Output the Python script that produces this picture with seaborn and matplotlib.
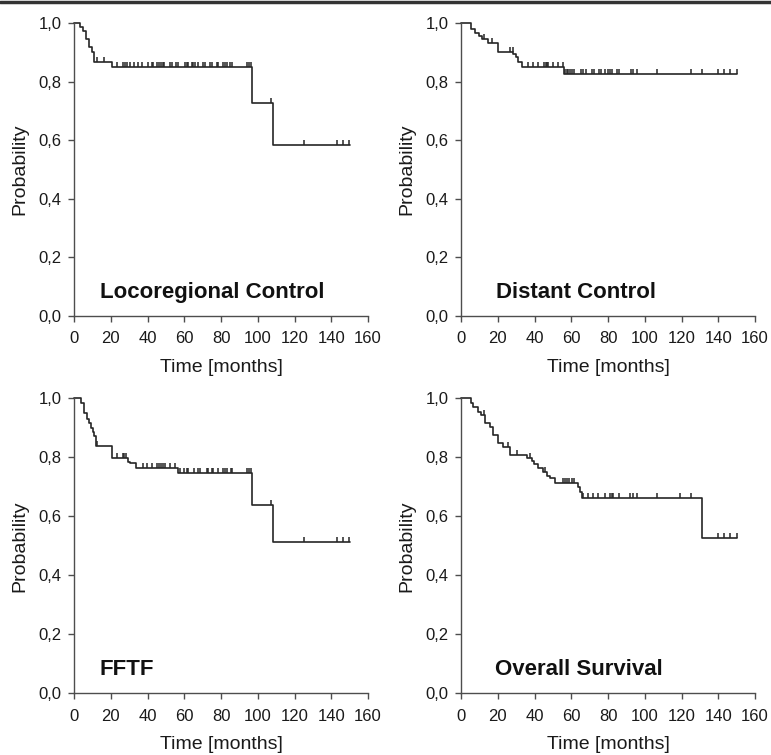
import matplotlib.pyplot as plt
import numpy as np
import pandas as pd
import seaborn as sns
from matplotlib.lines import Line2D
from matplotlib.ticker import FuncFormatter

# Locoregional control
lrc_times = [0, 3.3, 5.1, 6.5, 8.3, 9.8, 11.1, 20.5, 96.9, 108.1, 150.0]
lrc_surv = [1.0, 0.987, 0.973, 0.945, 0.919, 0.902, 0.866, 0.851, 0.726, 0.584, 0.584]
lrc_censor = [12.3, 16.5, 23.6, 26.8, 27.7, 28.7, 30.5, 32.7, 35.0, 36.8, 40.5, 42.3,
              43.2, 45.4, 46.3, 47.3, 48.3, 49.2, 52.2, 53.1, 55.5, 56.8, 60.4, 61.3,
              62.2, 64.0, 64.9, 65.8, 67.7, 70.4, 71.3, 74.0, 74.9, 77.6, 78.5, 81.3,
              82.2, 83.1, 84.9, 85.8, 94.0, 95.1, 96.3, 107.0, 125.3, 142.9, 146.2, 149.8]

# Distant control
dc_times = [0, 5.3, 7.6, 9.8, 11.6, 14.5, 20.0, 28.5, 29.7, 31.1, 33.0, 56.1, 150.4]
dc_surv = [1.0, 0.979, 0.968, 0.958, 0.946, 0.931, 0.902, 0.894, 0.884, 0.868, 0.851,
           0.826, 0.826]
dc_censor = [12.5, 16.7, 26.7, 28.1, 36.6, 39.3, 42.1, 45.2, 46.3, 47.0, 47.5, 49.9,
             52.6, 55.4, 56.6, 57.5, 58.4, 59.3, 60.2, 61.5, 65.1, 66.2, 68.0, 71.1,
             72.4, 75.1, 76.0, 78.4, 80.2, 81.1, 82.0, 84.7, 86.0, 92.3, 93.8, 96.0,
             106.8, 125.0, 131.0, 140.0, 143.1, 146.4, 150.0]

# Freedom from treatment failure
fftf_times = [0, 3.6, 5.4, 6.9, 8.3, 9.2, 10.2, 11.1, 11.8, 20.5, 29.2, 30.5, 33.7,
              56.4, 97.1, 108.1, 150.0]
fftf_surv = [1.0, 0.983, 0.949, 0.929, 0.915, 0.900, 0.887, 0.872, 0.838, 0.797, 0.785,
             0.780, 0.764, 0.746, 0.638, 0.512, 0.512]
fftf_censor = [12.3, 23.6, 26.5, 27.4, 28.3, 37.4, 39.9, 42.3, 45.4, 46.3, 47.2, 48.3,
               49.5, 52.2, 54.9, 57.7, 59.9, 61.3, 62.2, 65.3, 67.7, 68.6, 72.2, 73.1,
               74.9, 75.8, 78.5, 81.3, 82.2, 83.1, 85.3, 86.2, 94.0, 95.1, 96.3, 107.0,
               125.3, 142.9, 146.2, 149.8]

# Overall survival
os_times = [0, 5.3, 6.7, 9.4, 10.9, 13.1, 15.8, 17.3, 20.0, 22.7, 26.7, 36.1, 38.5,
            39.7, 42.1, 44.5, 46.6, 48.4, 51.1, 63.9, 64.8, 66.0, 131.0, 150.4]
os_surv = [1.0, 0.983, 0.969, 0.955, 0.943, 0.917, 0.902, 0.876, 0.850, 0.836, 0.808,
           0.797, 0.787, 0.777, 0.763, 0.751, 0.737, 0.729, 0.712, 0.698, 0.683, 0.661,
           0.525, 0.525]
os_censor = [12.5, 25.8, 30.3, 37.6, 45.7, 55.7, 56.6, 57.5, 59.0, 60.2, 61.5, 66.6,
             69.0, 71.7, 74.7, 78.4, 81.1, 82.0, 82.9, 86.2, 92.0, 93.8, 96.0, 106.8,
             119.2, 125.0, 140.0, 143.1, 146.4, 150.0]

titles = ['Locoregional Control', 'Distant Control', 'FFTF', 'Overall Survival']
x_ticks = np.arange(0, 161, 20)
y_ticks = np.arange(0, 1.01, 0.2)

sns.set_style('ticks')
plt.rcParams['font.family'] = ['Liberation Sans', 'DejaVu Sans']

LINE = '#262626'
AXIS = '#4d4d4d'

fig = plt.figure(figsize=(7.71, 7.55), dpi=100)
panels = [
    ([0.096, 0.5815, 0.3813, 0.3877], lrc_times, lrc_surv, lrc_censor, titles[0], 14.1),
    ([0.598, 0.5815, 0.3813, 0.3877], dc_times, dc_surv, dc_censor, titles[1], 19.0),
    ([0.096, 0.0817, 0.3813, 0.3907], fftf_times, fftf_surv, fftf_censor, titles[2], 14.1),
    ([0.598, 0.0817, 0.3813, 0.3907], os_times, os_surv, os_censor, titles[3], 18.5),
]

for rect, times, surv, censor, title, tx in panels:
    ax = fig.add_axes(rect)
    df = pd.DataFrame({'t': times, 'p': surv})
    sns.lineplot(data=df, x='t', y='p', ax=ax, estimator=None,
                 drawstyle='steps-post', color=LINE, linewidth=1.2, clip_on=False)
    # censored observations sit on the curve
    idx = np.searchsorted(times, censor, side='right') - 1
    cens_p = np.asarray(surv)[idx]
    sns.scatterplot(x=censor, y=cens_p, ax=ax, marker=2, s=12, color=LINE,
                    linewidth=1.1, clip_on=False)

    ax.set_xlim(0, 160)
    ax.set_ylim(0, 1.0)
    ax.set_xticks(x_ticks)
    ax.set_yticks(y_ticks)
    ax.yaxis.set_major_formatter(FuncFormatter(lambda v, _: f'{v:.1f}'.replace('.', ',')))
    ax.tick_params(direction='out', length=4, width=1, color=AXIS,
                   labelsize=12, labelcolor='#1a1a1a')
    ax.tick_params(axis='x', pad=7)
    ax.tick_params(axis='y', pad=5)
    ax.set_xlabel('Time [months]', fontsize=14, labelpad=9, color='#1a1a1a')
    ax.set_ylabel('Probability', fontsize=14, labelpad=7, color='#1a1a1a')
    sns.despine(ax=ax)
    for s in ['left', 'bottom']:
        ax.spines[s].set_linewidth(1)
        ax.spines[s].set_color(AXIS)
    ax.text(tx, 0.062, title, fontsize=16, fontweight='bold', ha='left',
            va='baseline', color='#111111')

# dark rule along the top edge
fig.add_artist(Line2D([0, 1], [0.998, 0.998], transform=fig.transFigure,
                      color='#333333', linewidth=2.5))

plt.savefig('out.png', dpi=100)
plt.close()
